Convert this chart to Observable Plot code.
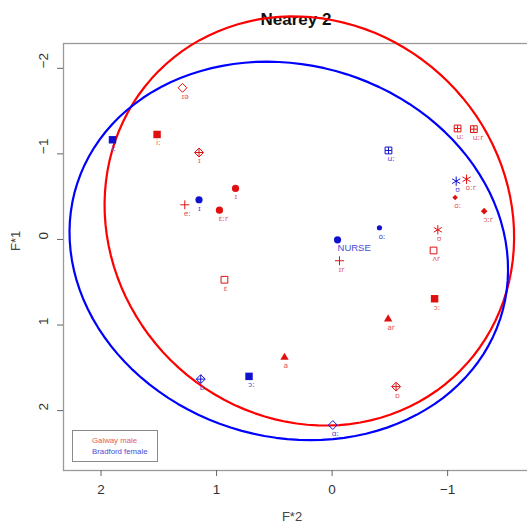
<!DOCTYPE html>
<html><head><meta charset="utf-8">
<script src="https://cdn.jsdelivr.net/npm/d3@7"></script>
<script src="https://cdn.jsdelivr.net/npm/@observablehq/plot@0.6"></script>
<style>
html,body{margin:0;padding:0;background:#fff;font-family:"Liberation Sans",Arial,sans-serif}
#wrap{position:relative;width:527px;height:526px;overflow:hidden}
#legend{position:absolute;left:72px;top:430px;width:86px;height:32px;border:1px solid #8a8a8a;box-sizing:border-box;font-size:7.8px;line-height:11px;padding:4px 0 0 19px;background:#fff}
#legend div{white-space:nowrap}
</style></head>
<body><div id="wrap"></div>
<script>
// ---- data ----
const speakers = ["Galway male", "Bradford female"];
const pointColors = ["#e01010", "#1010d0"];
const labelColors = ["#e25a5a", "#4a4ad6"];
const ellipseColors = ["#ff0000", "#0000ff"];

const galwayVowels  = ["iː","ɪə","ɪ","ɪ","eː","ɛːr","uː","uːr","oːr","oː","ɔːr","ʊ","ʌr","ɪr","ɛ","ɔː","ar","a","ɒ"];
const galwayF2      = [1.515,1.295,1.152,0.836,1.275,0.975,-1.086,-1.227,-1.164,-1.065,-1.316,-0.915,-0.878,-0.064,0.932,-0.887,-0.485,0.412,-0.554];
const galwayF1      = [-1.227,-1.772,-1.016,-0.596,-0.405,-0.342,-1.297,-1.289,-0.704,-0.491,-0.331,-0.113,0.129,0.249,0.471,0.693,0.931,1.379,1.72];
const galwaySymbols = ["sq","odi","dipl","ci","pl","ci","sqpl","sqpl","as","sdi","di","as","osq","pl","osq","sq","tr","tr","dipl"];

const bradfordVowels  = ["iː","ɪ","uː","ʊ","oː","NURSE","ɔː","ɒ","ɑː"];
const bradfordF2      = [1.901,1.152,-0.488,-1.074,-0.41,-0.047,0.719,1.137,-0.006];
const bradfordF1      = [-1.165,-0.464,-1.04,-0.681,-0.137,0.004,1.6,1.632,2.169];
const bradfordSymbols = ["sq","ci","sqpl","as","sci","ci","sq","dipl","odi"];

const ellipseCenterF2 = [0.197, 0.375];
const ellipseCenterF1 = [-0.216, 0.134];
const ellipseRadiusF2 = [1.771, 1.896];
const ellipseRadiusF1 = [2.389, 2.208];
const ellipseSkewF2   = [-0.074, -0.087];
const ellipseSkewF1   = [-0.088, -0.117];

const xTicks = [2, 1, 0, -1];
const yTicks = [-2, -1, 0, 1, 2];
const title = "Nearey 2";
const xLabel = "F*2";
const yLabel = "F*1";

// ---- build tables ----
const points = [];
galwayVowels.forEach((v, i) => points.push({speaker: 0, vowel: v, F2: galwayF2[i], F1: galwayF1[i], sym: galwaySymbols[i]}));
bradfordVowels.forEach((v, i) => points.push({speaker: 1, vowel: v, F2: bradfordF2[i], F1: bradfordF1[i], sym: bradfordSymbols[i]}));

const ellipse = [];
speakers.forEach((s, k) => {
  for (let a = 0; a <= 360; a += 3) {
    const t = a * Math.PI / 180;
    ellipse.push({
      speaker: k,
      F2: ellipseCenterF2[k] + ellipseRadiusF2[k] * Math.cos(t) + ellipseSkewF2[k] * Math.sin(t),
      F1: ellipseCenterF1[k] + ellipseRadiusF1[k] * Math.sin(t) + ellipseSkewF1[k] * Math.cos(t)
    });
  }
});

const fmt = d => String(d).replace("-", "\u2212");

// symbol styles: [plotSymbol, r, filled]
const symbolParts = {
  sq:   [["square", 4.2, true]],
  ci:   [["circle", 3.6, true]],
  sci:  [["circle", 2.6, true]],
  tr:   [["triangle", 3.1, true]],
  di:   [["diamond2", 3.0, true]],
  sdi:  [["diamond2", 2.5, true]],
  osq:  [["square2", 4.3, false]],
  odi:  [["diamond2", 4.0, false]],
  pl:   [["plus", 3.0, false]],
  as:   [["asterisk", 4.4, false]],
  dipl: [["diamond2", 4.0, false], ["plus", 2.8, false]],
  sqpl: [["square2", 4.3, false], ["plus", 2.3, false]]
};

const marks = [];
marks.push(Plot.frame({stroke: "#9a9a9a", strokeWidth: 1.3}));
marks.push(Plot.text([title], {frameAnchor: "top", dy: -31, fontSize: 17, fontWeight: "bold", fill: "#111"}));
marks.push(Plot.axisX({ticks: xTicks, tickSize: 6, tickPadding: 8, tickFormat: fmt, fontSize: 13.5, stroke: "#666", fill: "#333", label: null}));
marks.push(Plot.axisY({ticks: yTicks, tickSize: 6, tickFormat: () => "", stroke: "#666", label: null}));
marks.push(Plot.text(yTicks, {y: d => d, text: fmt, frameAnchor: "left", dx: -20, rotate: -90, fontSize: 13.5, fill: "#333"}));
marks.push(Plot.text([xLabel], {frameAnchor: "bottom", dy: 50, dx: -4, fontSize: 13, fill: "#444"}));
marks.push(Plot.text([yLabel], {frameAnchor: "left", dx: -48, dy: -6, rotate: -90, fontSize: 13, fill: "#444"}));

speakers.forEach((s, k) => {
  marks.push(Plot.line(ellipse.filter(d => d.speaker === k), {x: "F2", y: "F1", stroke: ellipseColors[k], strokeWidth: 2.2}));
});

speakers.forEach((s, k) => {
  Object.entries(symbolParts).forEach(([key, parts]) => {
    const sub = points.filter(d => d.speaker === k && d.sym === key);
    if (!sub.length) return;
    parts.forEach(([symbol, r, filled]) => {
      marks.push(Plot.dot(sub, {
        x: "F2", y: "F1", symbol: () => symbol, r,
        fill: filled ? pointColors[k] : "none",
        stroke: filled ? "none" : pointColors[k],
        strokeWidth: 1
      }));
    });
  });
  const labs = points.filter(d => d.speaker === k && d.vowel !== "NURSE");
  marks.push(Plot.text(labs, {x: "F2", y: "F1", text: "vowel", dy: 8.5, dx: -1, textAnchor: "start", fontSize: 7.5, fill: labelColors[k], fontFamily: "DejaVu Sans"}));
  const nurse = points.filter(d => d.speaker === k && d.vowel === "NURSE");
  marks.push(Plot.text(nurse, {x: "F2", y: "F1", text: "vowel", dy: 8, dx: 0, textAnchor: "start", fontSize: 9.5, fill: labelColors[k]}));
});

const chart = Plot.plot({
  width: 527,
  height: 526,
  marginLeft: 63,
  marginRight: -1,
  marginTop: 43,
  marginBottom: 56,
  style: {fontFamily: "Liberation Sans, Arial, sans-serif", background: "#fff", overflow: "visible"},
  x: {domain: [2.325, -1.70]},
  y: {domain: [2.70, -2.29]},
  symbol: {type: "identity"},
  marks
});

const wrap = document.getElementById("wrap");
wrap.appendChild(chart);
const legend = document.createElement("div");
legend.id = "legend";
speakers.forEach((s, k) => {
  const row = document.createElement("div");
  row.textContent = s;
  row.style.color = labelColors[k];
  legend.appendChild(row);
});
wrap.appendChild(legend);
</script>
</body></html>
